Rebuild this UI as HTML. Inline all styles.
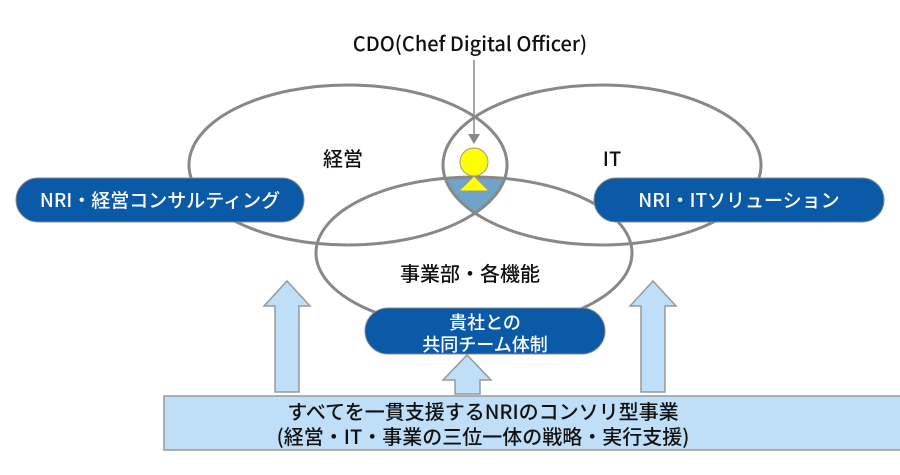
<!DOCTYPE html>
<html><head><meta charset="utf-8"><style>
body{margin:0;background:#fff;width:900px;height:470px;overflow:hidden;font-family:"Noto Sans CJK JP","Liberation Sans",sans-serif}
text{font-weight:500}
</style></head><body>
<svg width="900" height="470" xmlns="http://www.w3.org/2000/svg" style="font-family:'Noto Sans CJK JP','Liberation Sans',sans-serif">
<defs>
<clipPath id="cl"><ellipse cx="348" cy="165" rx="159" ry="80"/></clipPath>
<clipPath id="cr"><ellipse cx="602" cy="165" rx="159" ry="80"/></clipPath>
</defs>
<g clip-path="url(#cl)"><g clip-path="url(#cr)"><ellipse cx="474" cy="253" rx="158" ry="76" fill="#6fa4c9"/></g></g>
<g fill="none" stroke="#888" stroke-width="3">
<ellipse cx="348" cy="165" rx="159" ry="80"/>
<ellipse cx="602" cy="165" rx="159" ry="80"/>
<ellipse cx="474" cy="253" rx="158" ry="76"/>
</g>
<line x1="474" y1="60" x2="474" y2="136" stroke="#888" stroke-width="1.5"/>
<polygon points="468,134 480,134 474,144" fill="#888"/>
<circle cx="474" cy="162" r="14" fill="#ffff00" stroke="#999"/>
<polygon points="474,176 459,191 489,191" fill="#ffff00" stroke="#999"/>
<text x="470" y="51" font-size="20" text-anchor="middle" fill="#111">CDO(Chef Digital Officer)</text>
<text x="343" y="166" font-size="20" text-anchor="middle" fill="#111">経営</text>
<text x="612" y="166" font-size="20" text-anchor="middle" fill="#111">IT</text>
<text x="470" y="281" font-size="20" text-anchor="middle" fill="#111">事業部・各機能</text>
<rect x="16" y="178" width="288" height="44" rx="22" fill="#0a5aa8" stroke="#888"/>
<text x="160" y="207" font-size="19" text-anchor="middle" fill="#fff">NRI・経営コンサルティング</text>
<rect x="594" y="178" width="290" height="44" rx="22" fill="#0a5aa8" stroke="#888"/>
<text x="739" y="207" font-size="19" text-anchor="middle" fill="#fff">NRI・ITソリューション</text>
<g fill="#bfdff9" stroke="#999" stroke-width="1.5">
<polygon points="264,306 287,281 310,306 299,306 299,392 275,392 275,306"/>
<polygon points="630,306 653,281 676,306 665,306 665,392 641,392 641,306"/>
<polygon points="443,380 467,355 491,380 480,380 480,394 455,394 455,380"/>
<rect x="164" y="396" width="740" height="54"/>
</g>
<rect x="365" y="308" width="240" height="46" rx="23" fill="#0a5aa8" stroke="#888"/>
<text x="485" y="329" font-size="18" text-anchor="middle" fill="#fff">貴社との</text>
<text x="485" y="351" font-size="18" text-anchor="middle" fill="#fff">共同チーム体制</text>
<text x="483" y="419" font-size="20" text-anchor="middle" fill="#111">すべてを一貫支援するNRIのコンソリ型事業</text>
<text x="483" y="444" font-size="20" text-anchor="middle" fill="#111">(経営・IT・事業の三位一体の戦略・実行支援)</text>
</svg>
</body></html>
